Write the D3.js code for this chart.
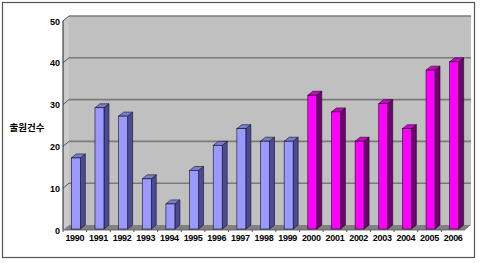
<!DOCTYPE html>
<html><head><meta charset="utf-8">
<script src="https://cdn.jsdelivr.net/npm/d3@7"></script>
<style>html,body{margin:0;padding:0;background:#fff;}svg{display:block;}</style>
</head><body>
<script>
const years = ["1990","1991","1992","1993","1994","1995","1996","1997","1998","1999","2000","2001","2002","2003","2004","2005","2006"];
const counts = [17,29,27,12,6,14,20,24,21,21,32,28,21,30,24,38,40];
const yTicks = [0,10,20,30,40,50];
const yTitle = "출원건수";

const W=480,H=263;
const svg=d3.select("body").append("svg").attr("width",W).attr("height",H);
svg.append("rect").attr("x",2.5).attr("y",2.5).attr("width",472).attr("height",255)
  .attr("fill","#fff").attr("stroke","#555").attr("stroke-width",1.2);

const x0=63,x1=465,dX=6,dY=-5;
const y=d3.scaleLinear().domain([0,50]).range([230,21]);
const x=d3.scaleBand().domain(years).range([x0,x1]).paddingInner(0.62).paddingOuter(0.31);

const g=svg.append("g");
g.append("rect").attr("x",x0+dX).attr("y",y(50)+dY).attr("width",x1-x0).attr("height",y(0)-y(50))
  .attr("fill","#c0c0c0");
g.append("path").attr("d",`M${x0},${y(50)}L${x0+dX},${y(50)+dY}L${x0+dX},${y(0)+dY}L${x0},${y(0)}Z`)
  .attr("fill","#cacaca");
g.append("path").attr("d",`M${x0},${y(0)}L${x0+dX},${y(0)+dY}L${x1+dX},${y(0)+dY}L${x1},${y(0)}Z`)
  .attr("fill","#808080");
yTicks.filter(v=>v>0).forEach(v=>{
  g.append("line").attr("x1",x0+dX).attr("x2",x1+dX).attr("y1",y(v)+dY).attr("y2",y(v)+dY)
    .attr("stroke","#7a7a7a").attr("stroke-width",1.6);
  g.append("line").attr("x1",x0).attr("x2",x0+dX).attr("y1",y(v)).attr("y2",y(v)+dY)
    .attr("stroke","#555").attr("stroke-width",1);
});
g.append("line").attr("x1",x0).attr("x2",x0).attr("y1",y(50)).attr("y2",y(0)).attr("stroke","#222").attr("stroke-width",1);
g.append("line").attr("x1",x0).attr("x2",x1).attr("y1",y(0)).attr("y2",y(0)).attr("stroke","#555").attr("stroke-width",0.8);
years.forEach((yr,i)=>{
  const xx=x0+i*(x1-x0)/years.length;
  g.append("line").attr("x1",xx).attr("x2",xx).attr("y1",y(0)).attr("y2",y(0)+2).attr("stroke","#555");
});

const bdx=5,bdy=-4,off=1;
years.forEach((yr,i)=>{
  const v=counts[i];
  const isNew=+yr>=2000;
  const cf=isNew?"#ff00ff":"#9999ff", cs=isNew?"#730073":"#4a4a99", ct=isNew?"#cc00cc":"#7b7bd6";
  const bx=x(yr)+off, bw=x.bandwidth(), by=y(v)-off, bb=y(0)-off;
  const bar=g.append("g");
  bar.append("path").attr("d",`M${bx+bw},${by}L${bx+bw+bdx},${by+bdy}L${bx+bw+bdx},${bb+bdy}L${bx+bw},${bb}Z`)
    .attr("fill",cs).attr("stroke","#111").attr("stroke-width",0.6);
  bar.append("path").attr("d",`M${bx},${by}L${bx+bdx},${by+bdy}L${bx+bw+bdx},${by+bdy}L${bx+bw},${by}Z`)
    .attr("fill",ct).attr("stroke","#111").attr("stroke-width",0.6);
  bar.append("rect").attr("x",bx).attr("y",by).attr("width",bw).attr("height",bb-by)
    .attr("fill",cf).attr("stroke","#111").attr("stroke-width",0.6);
});

const font="'Liberation Sans', Arial, sans-serif";
yTicks.forEach(v=>{
  svg.append("text").attr("x",60).attr("y",y(v)+3.5).attr("text-anchor","end")
    .attr("font-family",font).attr("font-weight","bold").attr("font-size",9).attr("fill","#000").text(v);
});
years.forEach(yr=>{
  svg.append("text").attr("x",x(yr)+x.bandwidth()/2).attr("y",241).attr("text-anchor","middle")
    .attr("font-family",font).attr("font-weight","bold").attr("font-size",9).attr("letter-spacing",-0.3).attr("fill","#000").text(yr);
});
svg.append("text").attr("x",27).attr("y",131).attr("text-anchor","middle")
  .attr("font-family","'Noto Sans CJK KR', sans-serif").attr("font-weight","bold").attr("font-size",9.5).attr("fill","#000").text(yTitle);
</script>
</body></html>
